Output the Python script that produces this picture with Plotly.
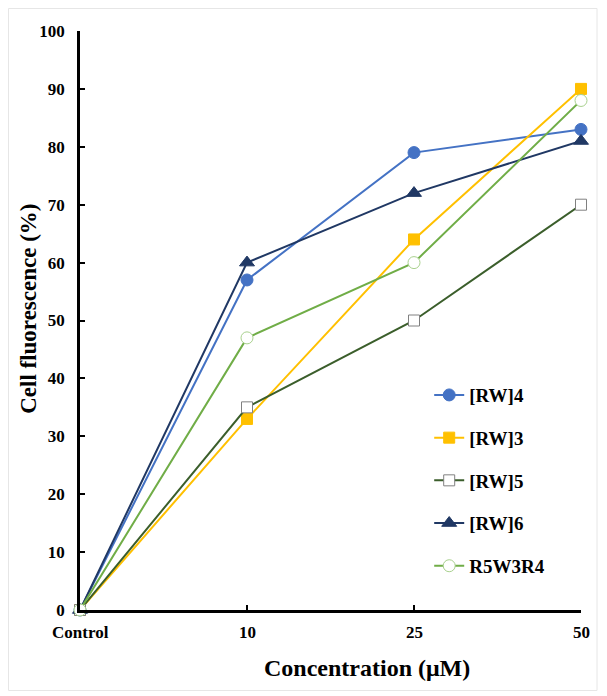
import plotly.graph_objects as go

categories = ["Control", "10", "25", "50"]
rw4 = [0, 57, 79, 83]
rw3 = [0, 33, 64, 90]
rw5 = [0, 35, 50, 70]
rw6 = [0, 60, 72, 81]
r5w3r4 = [0, 47, 60, 88]
y_ticks = [0, 10, 20, 30, 40, 50, 60, 70, 80, 90, 100]

xpos = list(range(len(categories)))
FONT = "Liberation Serif"

series = [
    ("[RW]4", rw4, "#4472C4", dict(symbol="circle", size=12, color="#4472C4", line=dict(color="#4472C4", width=1))),
    ("[RW]3", rw3, "#FFC000", dict(symbol="square", size=11, color="#FFC000", line=dict(color="#FFC000", width=1))),
    ("[RW]5", rw5, "#3B5E2B", dict(symbol="square", size=11, color="white", line=dict(color="#808080", width=1))),
    ("[RW]6", rw6, "#203864", dict(symbol="triangle-up", size=13, color="#203864", line=dict(color="#203864", width=1))),
    ("R5W3R4", r5w3r4, "#70AD47", dict(symbol="circle", size=12, color="white", line=dict(color="#A9D18E", width=1))),
]

fig = go.Figure()
for i, (name, vals, col, mk) in enumerate(series):
    fig.add_trace(go.Scatter(
        x=xpos, y=vals, name=name, mode="lines+markers",
        line=dict(color=col, width=2), marker=mk, cliponaxis=False,
        legendgroup=f"g{i}",
    ))

fig.update_layout(
    width=590, height=684,
    margin=dict(l=72, r=17, t=23, b=82),
    paper_bgcolor="white", plot_bgcolor="white",
    font=dict(family=FONT, color="black"),
    showlegend=True,
    legend=dict(x=0.697, y=0.404, xanchor="left", yanchor="top",
                font=dict(family=FONT, size=19, color="black", weight="bold"),
                tracegroupgap=15, bgcolor="rgba(0,0,0,0)"),
    xaxis=dict(range=[0, 3], tickvals=xpos, ticktext=["" for _ in categories],
               showgrid=False, zeroline=False, showline=True, linecolor="black", linewidth=3,
               ticks="inside", ticklen=5, tickwidth=2, tickcolor="black", automargin=False),
    yaxis=dict(range=[0, 100], tickvals=y_ticks, showgrid=False, zeroline=False,
               showline=True, linecolor="black", linewidth=2.5,
               ticks="inside", ticklen=5, tickwidth=2, tickcolor="black", automargin=False,
               ticklabelstandoff=9,
               tickfont=dict(family=FONT, size=17, weight="bold")),
)

for xv, lab in zip(xpos, categories):
    fig.add_annotation(x=xv, y=0, xref="x", yref="paper", text=f"<b>{lab}</b>",
                       showarrow=False, yanchor="top", yshift=-11,
                       font=dict(family=FONT, size=17, color="black"))

# axis titles
fig.add_annotation(x=0.573, y=-0.1, xref="paper", yref="paper",
                   text="<b>Concentration (μM)</b>", showarrow=False,
                   xanchor="center", yanchor="middle",
                   font=dict(family=FONT, size=24, color="black"))
fig.add_annotation(x=-0.102, y=0.52, xref="paper", yref="paper",
                   text="<b>Cell fluorescence (%)</b>", showarrow=False, textangle=-90,
                   xanchor="center", yanchor="middle",
                   font=dict(family=FONT, size=23, color="black"))

fig.add_shape(type="rect", xref="paper", yref="paper",
              x0=-0.1427, x1=1.032, y0=-0.139, y1=1.0389,
              line=dict(color="#E6E6E6", width=1), fillcolor="rgba(0,0,0,0)", layer="below")

fig.write_html("out.html")
